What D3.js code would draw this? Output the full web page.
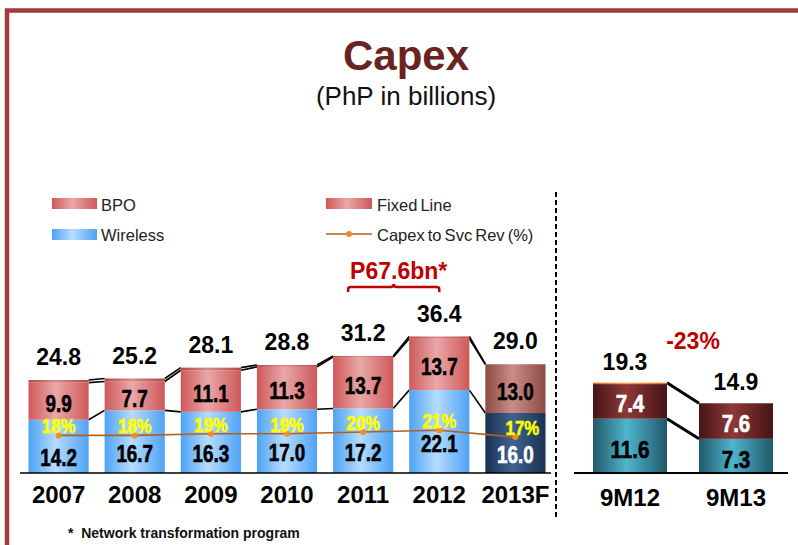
<!DOCTYPE html>
<html><head><meta charset="utf-8">
<script src="https://cdn.jsdelivr.net/npm/d3@7/dist/d3.min.js"></script>
<style>
html,body{margin:0;padding:0;background:#fff;}
svg{display:block;}
</style></head>
<body>
<svg id="chart" width="798" height="545"></svg>
<script>
// ---------- DATA ----------
const years = ["2007","2008","2009","2010","2011","2012","2013F"];
const wireless = [14.2,16.7,16.3,17.0,17.2,22.1,16.0];
const fixedLine = [9.9,7.7,11.1,11.3,13.7,13.7,13.0];
const bpo = [0.7,0.8,0.7,0.5,0.3,0.6,0.0];
const totals = [24.8,25.2,28.1,28.8,31.2,36.4,29.0];
const capexPct = [18,18,19,19,20,21,17];
const periods = ["9M12","9M13"];
const periodWireless = [11.6,7.3];
const periodFixed = [7.4,7.6];
const periodBpo = [0.3,0.0];
const periodTotals = [19.3,14.9];
const changeLabel = "-23%";
const bracketLabel = "P67.6bn*";
const legendItems = ["BPO","Fixed Line","Wireless","Capex to Svc Rev (%)"];

// ---------- SETUP ----------
const svg = d3.select("#chart");
const ARIAL = "'Liberation Sans', Arial, sans-serif";

const defs = svg.append("defs");
function grad(id, edge, light) {
  const g = defs.append("linearGradient").attr("id", id).attr("x1","0").attr("x2","1").attr("y1","0").attr("y2","0");
  g.append("stop").attr("offset","0%").attr("stop-color", edge);
  g.append("stop").attr("offset","45%").attr("stop-color", light);
  g.append("stop").attr("offset","100%").attr("stop-color", edge);
}
grad("gFixed", "#cf5858", "#e9a8a8");
grad("gBpo", "#b94646", "#d88a8a");
grad("gWire", "#4ea2f4", "#b6dcff");
grad("gFixedF", "#8e4942", "#c98e88");
grad("gWireF", "#1a3152", "#3f6391");
grad("gMaroon", "#461515", "#8f3838");
grad("gTeal", "#22586a", "#4fb5ce");
grad("gOrange", "#e06a10", "#f7a45a");

// condensed bold label helper
function narrowText(sel, size) {
  return sel.attr("text-anchor","middle").attr("font-family",ARIAL).attr("font-weight","bold")
    .attr("font-size", size).attr("x",0).attr("y",0).attr("stroke-width",0.6);
}
function place(sel, fx, fy, sx) {
  return sel.attr("transform", (d,i) => `translate(${fx(d,i)},${fy(d,i)}) scale(${sx},1)`);
}

// border
svg.append("path").attr("d","M7,545 V10.5 H798").attr("fill","none")
  .attr("stroke","#a13b3b").attr("stroke-width",4.5);

// title
svg.append("text").attr("x",406).attr("y",70).attr("text-anchor","middle")
  .attr("font-family",ARIAL).attr("font-weight","bold").attr("font-size",42)
  .attr("fill","#6b2322").text("Capex");
svg.append("text").attr("x",406).attr("y",105).attr("text-anchor","middle")
  .attr("font-family",ARIAL).attr("font-size",26).attr("fill","#111").text("(PhP in billions)");

// ---------- LEFT PANEL ----------
const baseY = 473;
const x = d3.scaleBand().domain(years).range([28.5, 545.5]).paddingInner(0.21).paddingOuter(0);
const bw = x.bandwidth();
const y = d3.scaleLinear().domain([0, 40]).range([baseY, baseY - 150]);
const yPct = d3.scaleLinear().domain([0, 100]).range([466, 296]);

const isF = i => years[i].endsWith("F");

const rows = years.map((yr, i) => ({
  yr, i,
  w0: 0, w1: wireless[i],
  f0: wireless[i], f1: wireless[i] + fixedLine[i],
  b0: wireless[i] + fixedLine[i], b1: wireless[i] + fixedLine[i] + bpo[i],
  total: totals[i], pct: capexPct[i]
}));

// connectors
const conn = svg.append("g").attr("stroke","#000").attr("stroke-width",1.6).attr("fill","none");
for (let i = 0; i < rows.length - 1; i++) {
  const a = rows[i], b = rows[i+1];
  ["w1","f1","b1"].forEach(k => {
    conn.append("line")
      .attr("x1", x(a.yr) + bw).attr("y1", y(a[k]))
      .attr("x2", x(b.yr)).attr("y2", y(b[k]));
  });
}

const bars = svg.append("g");
bars.selectAll("rect.w").data(rows).join("rect")
  .attr("x", d => x(d.yr)).attr("width", bw)
  .attr("y", d => y(d.w1)).attr("height", d => y(d.w0) - y(d.w1))
  .attr("fill", d => isF(d.i) ? "url(#gWireF)" : "url(#gWire)");
bars.selectAll("rect.f").data(rows).join("rect")
  .attr("x", d => x(d.yr)).attr("width", bw)
  .attr("y", d => y(d.f1)).attr("height", d => y(d.f0) - y(d.f1))
  .attr("fill", d => isF(d.i) ? "url(#gFixedF)" : "url(#gFixed)");
bars.selectAll("rect.b").data(rows.filter(d => d.b1 > d.b0)).join("rect")
  .attr("x", d => x(d.yr)).attr("width", bw)
  .attr("y", d => y(d.b1)).attr("height", d => y(d.b0) - y(d.b1))
  .attr("fill", "url(#gBpo)");

// axis baseline
svg.append("line").attr("x1",20).attr("x2",551).attr("y1",baseY).attr("y2",baseY)
  .attr("stroke","#000").attr("stroke-width",1.5);

// capex % line
const cx = d => x(d.yr) + bw/2;
svg.append("path").datum(rows)
  .attr("d", d3.line().x(cx).y(d => yPct(d.pct)))
  .attr("fill","none").attr("stroke","#b4601c").attr("stroke-width",1.6);
svg.selectAll("circle.p").data(rows).join("circle")
  .attr("cx", cx).attr("cy", d => yPct(d.pct)).attr("r",3).attr("fill","#f28c22");

// segment labels
place(narrowText(svg.selectAll("text.fl").data(rows).join("text"), 23)
  .attr("fill","#000").attr("stroke","#000").text(d => fixedLine[d.i].toFixed(1)),
  cx, d => (y(d.f0) + y(d.f1))/2 + 11, 0.82);
place(narrowText(svg.selectAll("text.wl").data(rows).join("text"), 23)
  .attr("fill", d => isF(d.i) ? "#fff" : "#000").attr("stroke", d => isF(d.i) ? "#fff" : "#000")
  .text(d => wireless[d.i].toFixed(1)),
  cx, d => (y(d.w0) + y(d.w1))/2 + 20, 0.82);
place(narrowText(svg.selectAll("text.pl").data(rows).join("text"), 20.5)
  .attr("fill","#ffff00").attr("stroke","#ffff00").text(d => d.pct + "%"),
  d => cx(d) + (isF(d.i) ? 7 : 0), d => yPct(d.pct) - 2, 0.82);
// totals
svg.selectAll("text.tl").data(rows).join("text")
  .attr("x", cx).attr("y", d => y(d.total) - 15)
  .attr("text-anchor","middle").attr("font-family",ARIAL).attr("font-weight","bold")
  .attr("font-size",23).attr("fill","#000").text(d => d.total.toFixed(1));
// year labels
svg.selectAll("text.yl").data(rows).join("text")
  .attr("x", cx).attr("y", 503)
  .attr("text-anchor","middle").attr("font-family",ARIAL).attr("font-weight","bold")
  .attr("font-size",24).attr("fill","#000").text(d => d.yr);

// bracket
const bx0 = x("2011") + bw*0.25, bx1 = x("2012") + bw/2, bm = (bx0 + bx1)/2;
svg.append("path")
  .attr("d", `M${bx0},292 V289 Q${bx0},287 ${bx0+3},287 H${bm-3} Q${bm},287 ${bm},284 Q${bm},287 ${bm+3},287 H${bx1-3} Q${bx1},287 ${bx1},289 V292`)
  .attr("fill","none").attr("stroke","#c00000").attr("stroke-width",2.5);
svg.append("text").attr("x", bm + 5).attr("y", 279).attr("text-anchor","middle")
  .attr("font-family",ARIAL).attr("font-weight","bold").attr("font-size",23)
  .attr("fill","#c00000").text(bracketLabel);

// legend
const lg = svg.append("g").attr("font-family",ARIAL).attr("font-size",16.5).attr("fill","#222");
lg.append("rect").attr("x",52).attr("y",198).attr("width",45).attr("height",11).attr("fill","url(#gFixed)");
lg.append("text").attr("x",101).attr("y",210.5).text(legendItems[0]);
lg.append("rect").attr("x",326).attr("y",198).attr("width",46).attr("height",11).attr("fill","url(#gFixed)");
lg.append("text").attr("x",377).attr("y",210.5).attr("word-spacing",-1.5).text(legendItems[1]);
lg.append("rect").attr("x",52).attr("y",229).attr("width",45).attr("height",11).attr("fill","url(#gWire)");
lg.append("text").attr("x",101).attr("y",241).text(legendItems[2]);
lg.append("line").attr("x1",326).attr("x2",372).attr("y1",234).attr("y2",234).attr("stroke","#b4601c").attr("stroke-width",1.6);
lg.append("circle").attr("cx",349).attr("cy",234).attr("r",3).attr("fill","#f28c22");
lg.append("text").attr("x",377).attr("y",241).attr("word-spacing",-1.5).text(legendItems[3]);

// separator
svg.append("line").attr("x1",556).attr("x2",556).attr("y1",192).attr("y2",517)
  .attr("stroke","#000").attr("stroke-width",2).attr("stroke-dasharray","5,3");

// ---------- RIGHT PANEL ----------
const xR = d3.scaleBand().domain(periods).range([593, 773]).paddingInner(0.302).paddingOuter(0);
const bwR = xR.bandwidth();
const yR = d3.scaleLinear().domain([0, 20]).range([baseY, baseY - 93.6]);
const prow = periods.map((p, i) => ({
  p, i,
  w1: periodWireless[i], f1: periodWireless[i] + periodFixed[i],
  b1: periodWireless[i] + periodFixed[i] + periodBpo[i], total: periodTotals[i]
}));
const rconn = svg.append("g").attr("stroke","#000").attr("stroke-width",3);
["w1","b1"].forEach(k => {
  rconn.append("line").attr("x1", xR(prow[0].p) + bwR).attr("y1", yR(prow[0][k]))
    .attr("x2", xR(prow[1].p)).attr("y2", yR(prow[1][k]));
});
const rc = d => xR(d.p) + bwR/2;
svg.selectAll("rect.rw").data(prow).join("rect")
  .attr("x", d => xR(d.p)).attr("width", bwR)
  .attr("y", d => yR(d.w1)).attr("height", d => yR(0) - yR(d.w1)).attr("fill","url(#gTeal)");
svg.selectAll("rect.rf").data(prow).join("rect")
  .attr("x", d => xR(d.p)).attr("width", bwR)
  .attr("y", d => yR(d.f1)).attr("height", d => yR(d.w1) - yR(d.f1)).attr("fill","url(#gMaroon)");
svg.selectAll("rect.rb").data(prow.filter(d => d.b1 > d.f1)).join("rect")
  .attr("x", d => xR(d.p)).attr("width", bwR)
  .attr("y", d => yR(d.b1)).attr("height", d => yR(d.f1) - yR(d.b1)).attr("fill","url(#gOrange)");
svg.append("line").attr("x1",574).attr("x2",788).attr("y1",baseY).attr("y2",baseY)
  .attr("stroke","#000").attr("stroke-width",2.2);

place(narrowText(svg.selectAll("text.rfl").data(prow).join("text"), 24)
  .attr("fill","#fff").attr("stroke","#fff").text(d => periodFixed[d.i].toFixed(1)),
  rc, d => (yR(d.w1) + yR(d.f1))/2 + 11, 0.86);
place(narrowText(svg.selectAll("text.rwl").data(prow).join("text"), 24)
  .attr("fill","#000").attr("stroke","#000").text(d => periodWireless[d.i].toFixed(1)),
  rc, d => (yR(0) + yR(d.w1))/2 + 12, 0.86);
svg.selectAll("text.rtl").data(prow).join("text")
  .attr("x", d => rc(d) - (d.i === 0 ? 5 : 0)).attr("y", d => yR(d.total) - 13)
  .attr("text-anchor","middle").attr("font-family",ARIAL).attr("font-weight","bold")
  .attr("font-size",23).attr("fill","#000").text(d => d.total.toFixed(1));
svg.selectAll("text.rpl").data(prow).join("text")
  .attr("x", rc).attr("y", 506)
  .attr("text-anchor","middle").attr("font-family",ARIAL).attr("font-weight","bold")
  .attr("font-size",24).attr("fill","#000").text(d => d.p);
svg.append("text")
  .attr("x", (xR(periods[0]) + bwR + xR(periods[1]))/2 + 10).attr("y", yR(periodTotals[0]) - 34)
  .attr("text-anchor","middle").attr("font-family",ARIAL).attr("font-weight","bold")
  .attr("font-size",23).attr("fill","#c00000").text(changeLabel);

// footnote
svg.append("text").attr("x",68).attr("y",538).attr("font-family",ARIAL).attr("font-weight","bold")
  .attr("font-size",14).attr("fill","#111").attr("xml:space","preserve").text("*  Network transformation program");
</script>
</body></html>
